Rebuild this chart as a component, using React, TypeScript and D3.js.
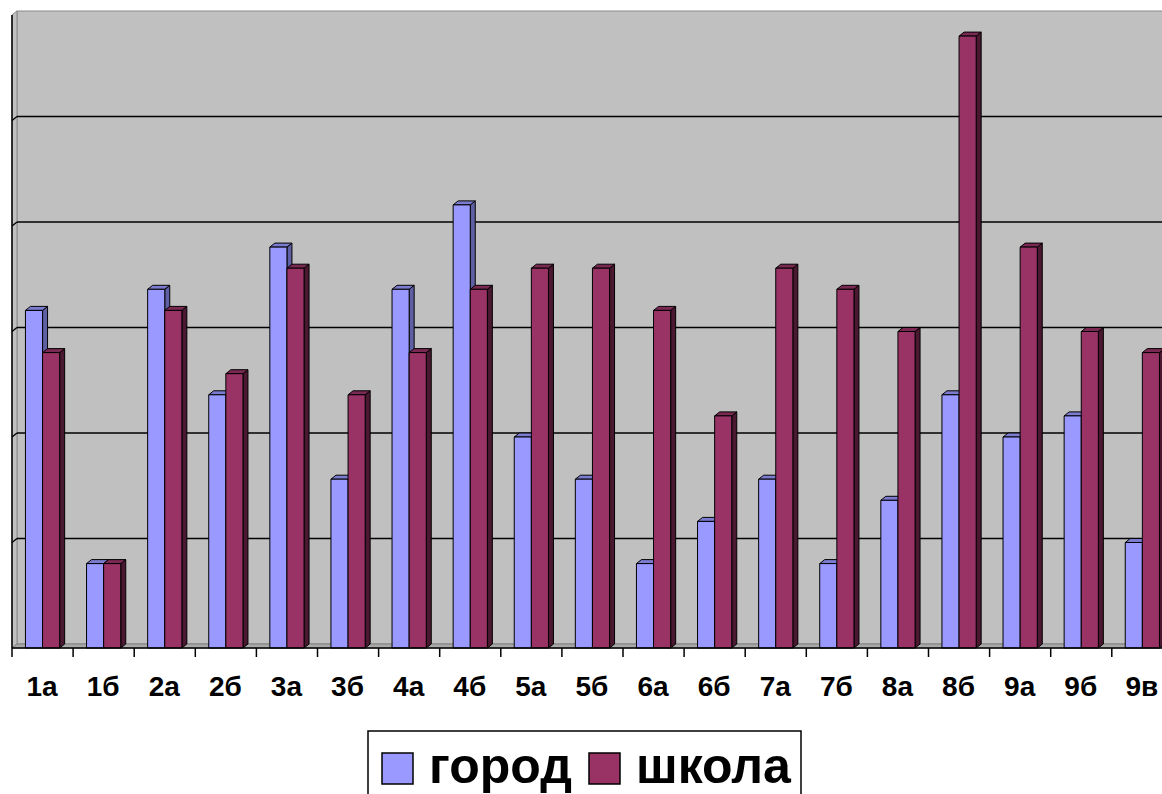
import React from "react";
import * as d3 from "d3";

const categories = ["1а", "1б", "2а", "2б", "3а", "3б", "4а", "4б", "5а", "5б", "6а", "6б", "7а", "7б", "8а", "8б", "9а", "9б", "9в"];
const gorod = [16, 4, 17, 12, 19, 8, 17, 21, 10, 8, 4, 6, 8, 4, 7, 12, 10, 11, 5];
const shkola = [14, 4, 16, 13, 18, 12, 14, 17, 18, 18, 16, 11, 18, 17, 15, 29, 19, 15, 14];
const seriesNames = ["город", "школа"];
const gridValues = [5, 10, 15, 20, 25];

const W = 1162, H = 794;
const X0 = 12, BW = 61.1, Y0 = 648, DX = 5, DY = 4;
const fronts = ["#9999FF", "#993366"];
const sides = ["#5F5FA3", "#4A1830"];
const tops = ["#7B7BD0", "#7A2952"];

export default function App() {
  const x = d3.scaleBand<string>().domain(categories).range([X0, X0 + BW * categories.length]).padding(0);
  const y = d3.scaleLinear().domain([0, 30]).range([Y0, Y0 - 6 * 105.5]);
  const bw = x.bandwidth();
  const barW = bw * 0.28;
  const off = bw * 0.22;
  const yTop = y(30) - DY;
  const data = [gorod, shkola];

  const bars: any[] = [];
  categories.forEach((c, ci) => {
    data.forEach((s, si) => {
      const x0 = (x(c) as number) + off + si * barW;
      const x1 = x0 + barW;
      const yt = y(s[ci]);
      bars.push(
        <g key={c + si} stroke="#000" strokeWidth={1} strokeLinejoin="round">
          <polygon points={`${x1},${yt} ${x1 + DX},${yt - DY} ${x1 + DX},${Y0 - DY} ${x1},${Y0}`} fill={sides[si]} />
          <polygon points={`${x0},${yt} ${x0 + DX},${yt - DY} ${x1 + DX},${yt - DY} ${x1},${yt}`} fill={tops[si]} />
          <rect x={x0} y={yt} width={barW} height={Y0 - yt} fill={fronts[si]} />
        </g>
      );
    });
  });

  return (
    <svg width={W} height={H} style={{ position: "absolute", left: 0, top: 0, background: "#fff" }}>
      {/* back wall */}
      <rect x={X0 + DX} y={yTop} width={W} height={Y0 - DY - yTop} fill="#C0C0C0" stroke="#8a8a8a" strokeWidth={1} />
      {/* left wall */}
      <polygon points={`${X0},${yTop + DY} ${X0 + DX},${yTop} ${X0 + DX},${Y0 - DY} ${X0},${Y0}`} fill="#C0C0C0" stroke="#8a8a8a" />
      {/* floor */}
      <polygon points={`${X0},${Y0} ${X0 + DX},${Y0 - DY} ${W + 10},${Y0 - DY} ${W + 10},${Y0}`} fill="#A8A8A8" stroke="#808080" />
      {/* gridlines */}
      {gridValues.map((v) => (
        <g key={v} stroke="#000" strokeWidth={1.5} fill="none">
          <line x1={X0 + DX} x2={W + 10} y1={y(v) - DY} y2={y(v) - DY} />
          <line x1={X0} x2={X0 + DX} y1={y(v)} y2={y(v) - DY} />
        </g>
      ))}
      {bars}
      {/* axes */}
      <line x1={X0} x2={X0} y1={yTop + DY} y2={Y0} stroke="#000" strokeWidth={1.5} />
      <line x1={X0} x2={W + 10} y1={Y0} y2={Y0} stroke="#000" strokeWidth={1.5} />
      {categories.map((c, i) => (
        <line key={"t" + i} x1={x(c) as number} x2={x(c) as number} y1={Y0} y2={Y0 + 9} stroke="#000" strokeWidth={1.5} />
      ))}
      {categories.map((c) => (
        <text key={"l" + c} x={(x(c) as number) + bw / 2 - 0.5} y={696} textAnchor="middle"
          fontFamily="Liberation Sans, Arial, sans-serif" fontWeight="bold" fontSize={28} fill="#000">{c}</text>
      ))}
      {/* legend */}
      <rect x={368} y={731} width={433} height={80} fill="#fff" stroke="#000" strokeWidth={1.5} />
      <rect x={382} y={753} width={31} height={31} fill={fronts[0]} stroke="#000" strokeWidth={1.5} />
      <text x={429} y={783} fontFamily="Liberation Sans, Arial, sans-serif" fontWeight="bold" fontSize={50} fill="#000">{seriesNames[0]}</text>
      <rect x={589} y={753} width={31} height={31} fill={fronts[1]} stroke="#000" strokeWidth={1.5} />
      <text x={636} y={783} fontFamily="Liberation Sans, Arial, sans-serif" fontWeight="bold" fontSize={50} fill="#000">{seriesNames[1]}</text>
    </svg>
  );
}
